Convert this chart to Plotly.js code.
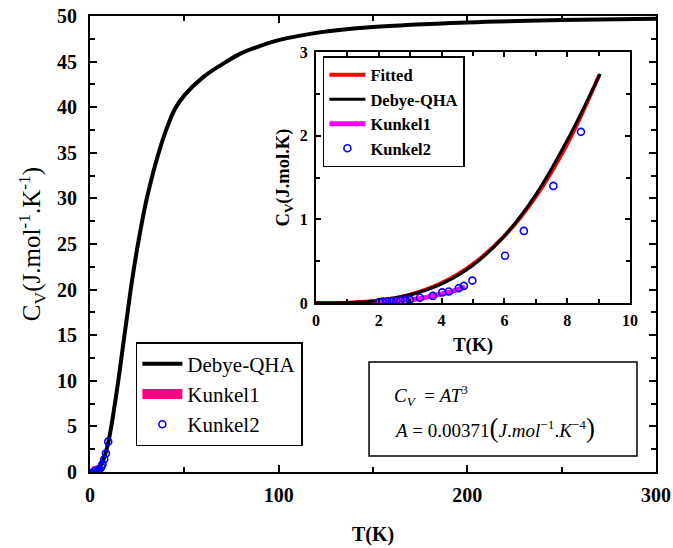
<!DOCTYPE html>
<html><head><meta charset="utf-8">
<script src="https://cdn.plot.ly/plotly-3.0.1.min.js"></script>
<style>body{margin:0;background:#fff;} #chart{width:673px;height:548px;}</style>
</head><body><div id="chart"></div>
<script>
// Main plot: Debye-QHA heat capacity, 0-300 K
const T_main = [0, 2, 4, 6, 8, 10, 12, 15, 18, 20, 22, 25, 28, 30, 35, 40, 45, 50, 60, 70, 80, 90, 100, 120, 150, 200, 250, 300];
const Cv_main = [0, 0.03, 0.24, 0.80, 1.88, 3.55, 5.9, 10.0, 14.6, 17.6, 20.6, 24.5, 27.9, 29.9, 34.0, 37.3, 39.8, 41.3, 43.3, 44.7, 45.9, 46.7, 47.35, 48.15, 48.8, 49.3, 49.55, 49.7];
// Kunkel1 (experimental, continuous)
const T_k1 = [1.9, 2.2, 2.5, 2.8, 3.1, 3.4, 3.7, 4.0, 4.3, 4.6, 4.75];
const Cv_k1 = [0.012, 0.016, 0.022, 0.030, 0.042, 0.058, 0.078, 0.103, 0.133, 0.172, 0.195];
// Kunkel2 (experimental points)
const T_k2 = [2.02, 2.12, 2.26, 2.41, 2.56, 2.69, 2.84, 2.99, 3.31, 3.72, 4.02, 4.23, 4.55, 4.71, 4.98, 6.02, 6.62, 7.56, 8.44, 9.65];
const Cv_k2 = [0.012, 0.016, 0.018, 0.022, 0.026, 0.029, 0.034, 0.040, 0.062, 0.085, 0.127, 0.137, 0.178, 0.205, 0.268, 0.564, 0.862, 1.40, 2.046, 3.33];
// Inset: fitted Cv = A T^3 and Debye-QHA at low T
const T_fit = [0, 1, 2, 3, 4, 5, 6, 7, 8, 9.03];
const Cv_fit = [0, 0.0037, 0.0297, 0.100, 0.237, 0.464, 0.801, 1.273, 1.900, 2.732];
const T_inset = [0, 1, 2, 3, 4, 5, 6, 7, 8, 9.05];
const Cv_inset = [0, 0.004, 0.030, 0.098, 0.228, 0.452, 0.800, 1.295, 1.945, 2.74];

const serif = 'Liberation Serif, serif';

const traces = [
  {x: T_main, y: Cv_main, mode: 'lines', name: 'Debye-QHA', line: {color: '#000', width: 4, shape: 'spline'}, xaxis: 'x', yaxis: 'y', legend: 'legend'},
  {x: T_k1, y: Cv_k1, mode: 'lines', name: 'Kunkel1', line: {color: '#ff0080', width: 11}, xaxis: 'x', yaxis: 'y', legend: 'legend'},
  {x: T_k2, y: Cv_k2, mode: 'markers', name: 'Kunkel2', marker: {symbol: 'circle-open', size: 7, color: '#0000ff', line: {width: 1.6}}, xaxis: 'x', yaxis: 'y', legend: 'legend'},
  {x: T_fit, y: Cv_fit, mode: 'lines', name: 'Fitted', line: {color: '#ff0000', width: 4, shape: 'spline'}, xaxis: 'x2', yaxis: 'y2', legend: 'legend2'},
  {x: T_inset, y: Cv_inset, mode: 'lines', name: 'Debye-QHA', line: {color: '#000', width: 3, shape: 'spline'}, xaxis: 'x2', yaxis: 'y2', legend: 'legend2'},
  {x: T_k1, y: Cv_k1, mode: 'lines', name: 'Kunkel1', line: {color: '#ff00ff', width: 5}, xaxis: 'x2', yaxis: 'y2', legend: 'legend2'},
  {x: T_k2, y: Cv_k2, mode: 'markers', name: 'Kunkel2', marker: {symbol: 'circle-open', size: 7, color: '#0000ff', line: {width: 1.6}}, xaxis: 'x2', yaxis: 'y2', legend: 'legend2'}
];

const axBase = {showgrid: false, zeroline: false, linecolor: '#000', linewidth: 2, mirror: 'ticks', ticks: 'inside', tickcolor: '#000', tickwidth: 2};

const layout = {
  width: 673, height: 548,
  margin: {l: 90, r: 17, t: 16, b: 76},
  paper_bgcolor: '#fff', plot_bgcolor: '#fff',
  font: {family: serif, color: '#000'},
  showlegend: true,
  xaxis: Object.assign({}, axBase, {
    domain: [0, 1], range: [0, 300], tickvals: [0, 100, 200, 300], ticklen: 7,
    minor: {tickvals: [50, 150, 250], ticks: 'inside', ticklen: 5, tickwidth: 2, tickcolor: '#000'},
    tickfont: {size: 20, weight: 'bold', family: serif}, ticklabelstandoff: 4,
    title: {text: 'T(K)', font: {size: 20, weight: 'bold', family: serif}, standoff: 22}
  }),
  yaxis: Object.assign({}, axBase, {
    domain: [0, 1], range: [0, 50], dtick: 5, ticklen: 7,
    minor: {dtick: 2.5, ticks: 'inside', ticklen: 5, tickwidth: 2, tickcolor: '#000'},
    tickfont: {size: 20, weight: 'bold', family: serif}, ticklabelstandoff: 7,
    title: {text: 'C<sub>V</sub>(J.mol<sup>-1</sup>.K<sup>-1</sup>)', font: {size: 25, family: serif}, standoff: 9}
  }),
  xaxis2: Object.assign({}, axBase, {
    domain: [0.3993, 0.954], anchor: 'y2', range: [0, 10], dtick: 2, ticklen: 5,
    minor: {dtick: 1, ticks: 'inside', ticklen: 4, tickwidth: 2, tickcolor: '#000'},
    tickfont: {size: 16, weight: 'bold', family: serif}, ticklabelstandoff: 2,
    title: {text: 'T(K)', font: {size: 19, weight: 'bold', family: serif}, standoff: 9}
  }),
  yaxis2: Object.assign({}, axBase, {
    domain: [0.3706, 0.921], anchor: 'x2', range: [0, 3], dtick: 1, ticklen: 5,
    minor: {dtick: 0.5, ticks: 'inside', ticklen: 4, tickwidth: 2, tickcolor: '#000'},
    tickfont: {size: 16, weight: 'bold', family: serif}, ticklabelstandoff: 3,
    title: {text: 'C<sub>V</sub>(J.mol.K)', font: {size: 18.5, weight: 'bold', family: serif}, standoff: 5}
  }),
  legend: {x: 0.081, y: 0.285, xanchor: 'left', yanchor: 'top', bgcolor: '#fff', bordercolor: '#000', borderwidth: 1.5,
    font: {size: 21, family: serif}, itemwidth: 40, tracegroupgap: 0},
  legend2: {x: 0.4115, y: 0.912, xanchor: 'left', yanchor: 'top', bgcolor: '#fff', bordercolor: '#000', borderwidth: 1.5,
    font: {size: 16.5, weight: 'bold', family: serif}, itemwidth: 36, tracegroupgap: 0},
  shapes: [
    {type: 'rect', xref: 'paper', yref: 'paper', x0: 0.493, x1: 0.9664, y0: 0.0351, y1: 0.2412, line: {color: '#000', width: 1.5}, fillcolor: 'rgba(0,0,0,0)'}
  ],
  annotations: [
    {xref: 'paper', yref: 'paper', x: 0.533, y: 0.168, xanchor: 'left', yanchor: 'middle', showarrow: false,
      font: {size: 19, family: serif},
      text: '<i>C</i><sub><i>V</i></sub>  = <i>AT</i><sup>3</sup>'},
    {xref: 'paper', yref: 'paper', x: 0.533, y: 0.0965, xanchor: 'left', yanchor: 'middle', showarrow: false,
      font: {size: 19, family: serif},
      text: '<i>A</i> = 0.00371<span style="font-size:27px">(</span><i>J</i>.<i>mol</i><sup>−1</sup>.<i>K</i><sup>−4</sup><span style="font-size:27px">)</span>'}
  ]
};

Plotly.newPlot('chart', traces, layout, {staticPlot: true, displayModeBar: false});
</script>
</body></html>
